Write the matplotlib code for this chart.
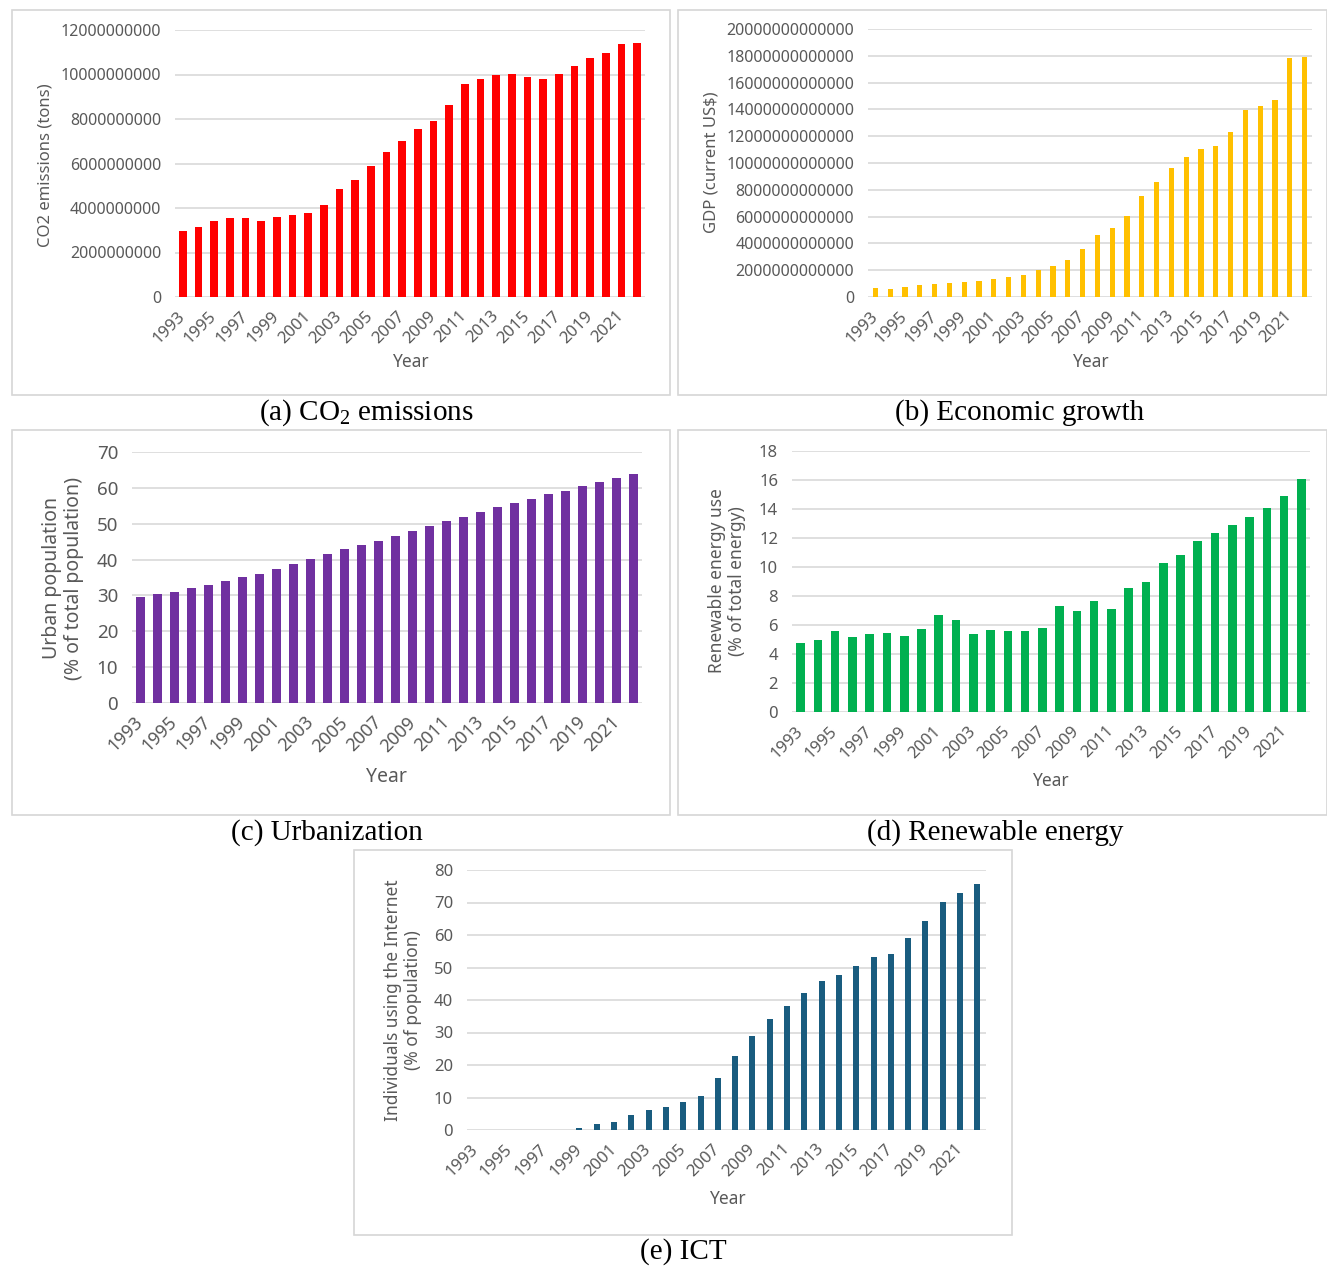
import matplotlib
matplotlib.use("Agg")
import matplotlib.pyplot as plt
from matplotlib.patches import Rectangle
import numpy as np

years = list(range(1993, 2023))

co2 = [2.95e9, 3.14e9, 3.41e9, 3.56e9, 3.56e9, 3.41e9, 3.61e9, 3.67e9, 3.76e9, 4.13e9,
       4.85e9, 5.24e9, 5.90e9, 6.51e9, 7.01e9, 7.54e9, 7.93e9, 8.65e9, 9.58e9, 9.81e9,
       10.00e9, 10.04e9, 9.88e9, 9.81e9, 10.04e9, 10.37e9, 10.76e9, 10.96e9, 11.38e9, 11.41e9]

gdp = [0.65e12, 0.57e12, 0.72e12, 0.89e12, 0.97e12, 1.04e12, 1.09e12, 1.22e12, 1.34e12, 1.47e12,
       1.66e12, 1.99e12, 2.34e12, 2.76e12, 3.58e12, 4.60e12, 5.12e12, 6.06e12, 7.55e12, 8.57e12,
       9.59e12, 10.48e12, 11.06e12, 11.25e12, 12.32e12, 13.94e12, 14.29e12, 14.68e12, 17.81e12, 17.94e12]

urban = [29.45, 30.3, 31.0, 32.2, 32.9, 34.0, 35.1, 36.0, 37.4, 38.7,
         40.1, 41.5, 42.9, 44.2, 45.3, 46.6, 48.0, 49.4, 50.8, 51.8,
         53.2, 54.6, 55.7, 57.0, 58.2, 59.2, 60.6, 61.6, 62.7, 63.9]

renew = [4.79, 4.98, 5.6, 5.14, 5.41, 5.48, 5.23, 5.71, 6.66, 6.34,
         5.35, 5.65, 5.6, 5.6, 5.78, 7.28, 6.98, 7.65, 7.1, 8.53,
         8.96, 10.28, 10.85, 11.8, 12.33, 12.9, 13.46, 14.1, 14.9, 16.04]

ict = [0, 0, 0, 0, 0, 0, 0.7, 1.85, 2.6, 4.6,
       6.1, 7.2, 8.5, 10.5, 15.9, 22.7, 28.9, 34.2, 38.2, 42.2,
       45.8, 47.8, 50.4, 53.2, 54.3, 59.1, 64.3, 70.1, 72.9, 75.8]

tick_years = [str(y) for y in range(1993, 2022, 2)]

W, H = 1327, 1266
fig = plt.figure(figsize=(W / 100, H / 100), dpi=100)
fig.patch.set_facecolor("white")
plt.rcParams["mathtext.fontset"] = "custom"
plt.rcParams["mathtext.rm"] = "Liberation Serif"

SANS = "Noto Sans"
GRAY = "#595959"


def fx(x):
    return x / W


def fy(y):
    return 1 - y / H


def border(x0, y0, x1, y1):
    fig.add_artist(Rectangle((fx(x0), fy(y1)), (x1 - x0) / W, (y1 - y0) / H,
                             transform=fig.transFigure, fill=False,
                             edgecolor="#d6d6d6", linewidth=1.2))


def panel(x0, x1, ytop, ybot, values, color, ymax, ystep, width, tfs,
          ylabel, ylx, yly, ylfs, yearx, yeary, xtfs, yearfs):
    ax = fig.add_axes([fx(x0), fy(ybot), (x1 - x0) / W, (ybot - ytop) / H])
    idx = np.arange(len(years))
    ax.bar(idx, values, width=width, color=color, zorder=3)
    ax.set_xlim(-0.5, len(years) - 0.5)
    ax.set_ylim(0, ymax)
    ax.set_yticks(np.arange(0, ymax + ystep / 2, ystep))
    ax.yaxis.set_major_formatter(matplotlib.ticker.FuncFormatter(lambda v, p: f"{int(round(v))}"))
    ax.grid(axis="y", color="#d9d9d9", linewidth=1.2, zorder=0)
    for s in ax.spines.values():
        s.set_visible(False)
    ax.tick_params(axis="both", length=0)
    ax.set_xticks(idx[::2])
    ax.set_xticklabels(tick_years, rotation=45, ha="right", va="center",
                       rotation_mode="anchor", fontsize=xtfs, color=GRAY, family=SANS)
    ax.tick_params(axis="x", pad=12)
    for lab in ax.get_yticklabels():
        lab.set_fontsize(tfs)
        lab.set_color(GRAY)
        lab.set_family(SANS)
    ax.tick_params(axis="y", pad=10)
    ax.set_facecolor("none")
    fig.text(fx(ylx), fy(yly), ylabel, rotation=90, ha="center", va="center",
             fontsize=ylfs, color=GRAY, family=SANS, linespacing=1.1)
    fig.text(fx(yearx), fy(yeary), "Year", ha="center", va="center",
             fontsize=yearfs, color=GRAY, family=SANS)
    return ax


# panel borders
border(12, 10, 670, 395)
border(678, 10, 1327, 395)
border(12, 430, 670, 815)
border(678, 430, 1327, 815)
border(354, 850, 1012, 1235)

panel(175, 645, 30, 297, co2, "#FF0000", 12e9, 2e9, 0.5, 11.5,
      "CO2 emissions (tons)", 46, 165, 12, 410, 362, 12, 12.5)
panel(868, 1312, 29, 297, gdp, "#FFC000", 20e12, 2e12, 0.35, 11.5,
      "GDP (current US$)", 712, 162, 12, 1090, 362, 12, 12.5)
panel(132, 642, 452, 703, urban, "#7030A0", 70, 10, 0.55, 13.5,
      "Urban population\n(% of total population)", 63, 578, 14, 387, 777, 13, 14)
panel(792, 1310, 451, 712, renew, "#00B050", 18, 2, 0.5, 12,
      "Renewable energy use\n(% of total energy)", 727, 581, 12.5, 1050, 781, 12, 12.5)
panel(467, 986, 870, 1130, ict, "#195C7F", 80, 10, 0.35, 12,
      "Individuals using the Internet\n(% of population)", 403, 1000, 12.5, 727, 1199, 12, 12.5)

CAP = "Liberation Serif"
CFS = 21
fig.text(fx(366), fy(413), r"(a) CO$_\mathrm{2}$ emissions", ha="center", va="center",
         fontsize=CFS, family=CAP)
fig.text(fx(1020), fy(413), "(b) Economic growth", ha="center", va="center",
         fontsize=CFS, family=CAP)
fig.text(fx(327), fy(833), "(c) Urbanization", ha="center", va="center",
         fontsize=CFS, family=CAP)
fig.text(fx(995), fy(833), "(d) Renewable energy", ha="center", va="center",
         fontsize=CFS, family=CAP)
fig.text(fx(683), fy(1252), "(e) ICT", ha="center", va="center",
         fontsize=CFS, family=CAP)

fig.savefig("out.png", dpi=100, facecolor="white")
